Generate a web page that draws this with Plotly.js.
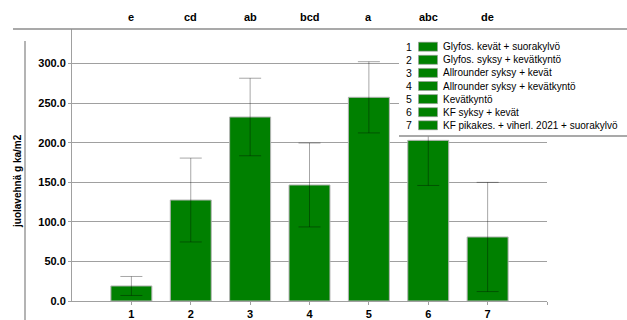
<!DOCTYPE html>
<html>
<head>
<meta charset="utf-8">
<script src="https://cdn.plot.ly/plotly-3.0.1.min.js"></script>
<style>html,body{margin:0;padding:0;background:#fff;}#chart{width:627px;height:320px;}</style>
</head>
<body>
<div id="chart"></div>
<script>
const categories = [1, 2, 3, 4, 5, 6, 7];
const values = [19, 127.6, 232.5, 146.6, 257.4, 203, 80.9];
const errors = [12, 53, 49, 53, 45, 57, 69];
const groupLetters = ['e', 'cd', 'ab', 'bcd', 'a', 'abc', 'de'];
const legendLabels = [
  'Glyfos. kevät + suorakylvö',
  'Glyfos. syksy + kevätkyntö',
  'Allrounder syksy + kevät',
  'Allrounder syksy + kevätkyntö',
  'Kevätkyntö',
  'KF syksy + kevät',
  'KF pikakes. + viherl. 2021 + suorakylvö'
];
const yTitle = 'juolavehnä g ka/m2';

const W = 627, H = 320;
const M = {l: 72, r: 80, t: 29, b: 19};
const PW = W - M.l - M.r, PH = H - M.t - M.b;
const px = x => (x - M.l) / PW;
const py = y => (H - M.b - y) / PH;

const green = '#008000';
const font = 'Liberation Sans, Arial, sans-serif';

const shapes = [];
const annotations = [];

// top horizontal rule
shapes.push({type: 'line', xref: 'paper', yref: 'paper', x0: px(13), x1: px(627), y0: 1, y1: 1,
  line: {color: '#8c8c8c', width: 1.3}, layer: 'above'});
// left vertical rule
shapes.push({type: 'line', xref: 'paper', yref: 'paper', x0: px(25), x1: px(25), y0: py(41), y1: py(322),
  line: {color: '#8c8c8c', width: 1.3}, layer: 'above'});
// legend background
shapes.push({type: 'rect', xref: 'paper', yref: 'paper', x0: px(399), x1: px(628), y0: py(136), y1: py(30),
  fillcolor: '#ffffff', line: {width: 0}, layer: 'above'});
shapes.push({type: 'line', xref: 'paper', yref: 'paper', x0: px(399), x1: px(628), y0: py(136), y1: py(136),
  line: {color: '#8c8c8c', width: 1.3}, layer: 'above'});

legendLabels.forEach((lab, i) => {
  const yc = 46.7 + i * 13.1;
  annotations.push({xref: 'paper', yref: 'paper', x: px(409), y: py(yc), text: String(categories[i]),
    showarrow: false, xanchor: 'center', yanchor: 'middle', font: {family: font, size: 10.5, color: '#000'}});
  shapes.push({type: 'rect', xref: 'paper', yref: 'paper', x0: px(418.5), x1: px(437.5), y0: py(yc + 4.5), y1: py(yc - 4.5),
    fillcolor: green, line: {color: '#9a9a9a', width: 0.6}, layer: 'above'});
  annotations.push({xref: 'paper', yref: 'paper', x: px(441), y: py(yc), text: lab,
    showarrow: false, xanchor: 'left', yanchor: 'middle', font: {family: font, size: 10, color: '#000'}});
});

groupLetters.forEach((g, i) => {
  annotations.push({xref: 'x', yref: 'paper', x: categories[i], y: py(17), text: '<b>' + g + '</b>',
    showarrow: false, xanchor: 'center', yanchor: 'middle', font: {family: font, size: 11, color: '#000'}});
});

annotations.push({xref: 'paper', yref: 'paper', x: px(17), y: py(181), text: '<b>' + yTitle + '</b>',
  textangle: -90, showarrow: false, xanchor: 'center', yanchor: 'middle', font: {family: font, size: 10, color: '#000'}});

const trace = {
  type: 'bar', x: categories, y: values, width: 0.69,
  marker: {color: green, line: {color: '#b4b4b4', width: 1}},
  error_y: {type: 'data', array: errors, visible: true, color: 'rgba(0,0,0,0.35)', thickness: 1, width: 11},
  hoverinfo: 'none', showlegend: false
};

const layout = {
  width: W, height: H, margin: M, paper_bgcolor: '#fff', plot_bgcolor: '#fff', showlegend: false,
  xaxis: {range: [0, 8], tickvals: categories.concat([8]), ticktext: categories.map(String).concat(['']),
    showgrid: false, zeroline: false, showline: true, linecolor: '#a0a0a0', linewidth: 1,
    ticks: 'outside', ticklen: 3, tickcolor: '#a0a0a0', tickfont: {family: font, size: 11, color: '#000', weight: 'bold'}},
  yaxis: {range: [0, 343.7], dtick: 50, tick0: 0, tickformat: '.1f', showgrid: true, gridcolor: '#a0a0a0', gridwidth: 1,
    zeroline: false, showline: true, linecolor: '#a0a0a0', linewidth: 1, ticks: 'outside', ticklen: 3, tickcolor: '#a0a0a0',
    tickfont: {family: font, size: 11, color: '#000', weight: 'bold'}},
  shapes: shapes, annotations: annotations, bargap: 0.31
};

Plotly.newPlot('chart', [trace], layout, {staticPlot: true, displayModeBar: false});
</script>
</body>
</html>
